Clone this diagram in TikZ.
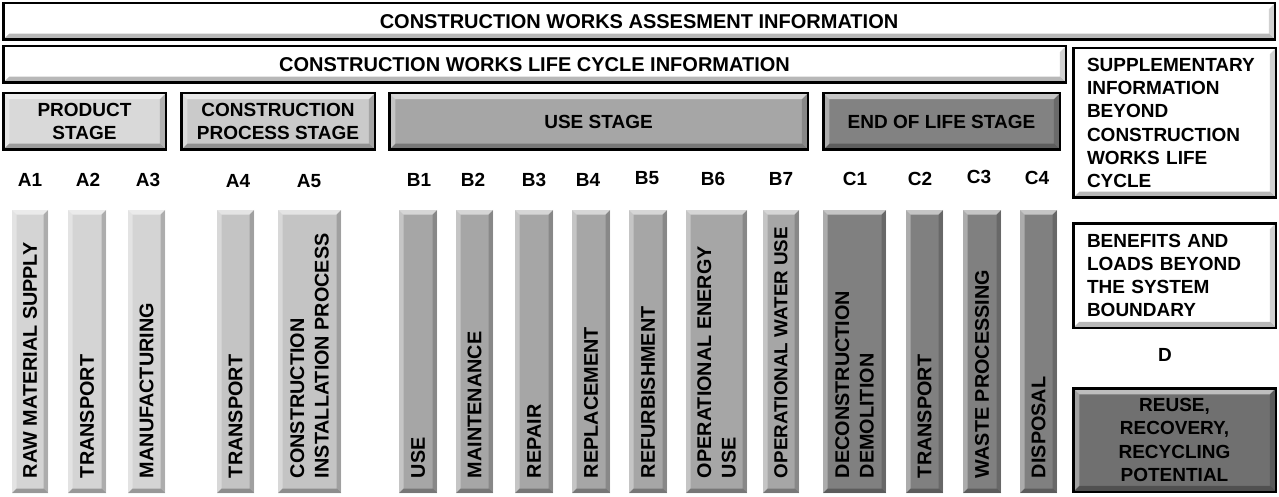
\documentclass[tikz,border=0pt]{standalone}
\usepackage{fontspec}
\setmainfont{Liberation Sans}
\definecolor{prodbox}{HTML}{D9D9D9}
\definecolor{prodcol}{HTML}{D4D4D4}
\definecolor{procbox}{HTML}{CACACA}
\definecolor{proccol}{HTML}{C4C4C4}
\definecolor{usebox}{HTML}{A6A6A6}
\definecolor{usecol}{HTML}{A6A6A6}
\definecolor{eolbox}{HTML}{828282}
\definecolor{eolcol}{HTML}{808080}
\definecolor{reusebox}{HTML}{707070}
\begin{document}
\begin{tikzpicture}[x=1pt,y=1pt,
  txt/.style={font=\fontsize{19}{23.2}\selectfont\bfseries},
  bigtxt/.style={font=\fontsize{20}{24}\selectfont\bfseries},
  coltxtfont/.style={font=\fontsize{19.8}{24.5}\selectfont\bfseries},
  bevel/.style={path picture={
    \coordinate (pnw) at (path picture bounding box.north west);
    \coordinate (pne) at (path picture bounding box.north east);
    \coordinate (psw) at (path picture bounding box.south west);
    \coordinate (pse) at (path picture bounding box.south east);
    \fill[white,opacity=.55] (pnw) -- (pne) -- ([shift={(-#1,-#1)}]pne) -- ([shift={(#1,-#1)}]pnw) -- cycle;
    \fill[white,opacity=.35] (pnw) -- (psw) -- ([shift={(#1,#1)}]psw) -- ([shift={(#1,-#1)}]pnw) -- cycle;
    \fill[black,opacity=.18] (pne) -- (pse) -- ([shift={(-#1,#1)}]pse) -- ([shift={(-#1,-#1)}]pne) -- cycle;
    \fill[black,opacity=.28] (psw) -- (pse) -- ([shift={(-#1,#1)}]pse) -- ([shift={(#1,#1)}]psw) -- cycle;
  }},
  box/.style={draw=black, line width=2.5pt, rectangle, inner sep=0pt, bevel=6pt, txt, align=center},
  colbox/.style={rectangle, inner sep=0pt, bevel=4.5pt, minimum height=283pt},
  coltxt/.style={coltxtfont, rotate=90, anchor=west, inner sep=0pt, align=left},
  code/.style={txt, inner sep=0pt}
]
\useasboundingbox (0,0) rectangle (1279,-497);

% header boxes
\node[box, bigtxt, fill=white, minimum width=1271.5pt, minimum height=36.5pt] (assess) at (639,-21.5) {CONSTRUCTION WORKS ASSESMENT INFORMATION};
\node[box, bigtxt, fill=white, minimum width=1062.5pt, minimum height=36.5pt] (life) at (534.5,-64.5) {CONSTRUCTION WORKS LIFE CYCLE INFORMATION};

% stage boxes
\node[box, fill=prodbox, minimum width=162.5pt, minimum height=56.5pt] (product) at (84.5,-121.5) {PRODUCT\\STAGE};
\node[box, fill=procbox, minimum width=193.5pt, minimum height=56.5pt] (process) at (278,-121.5) {CONSTRUCTION\\PROCESS STAGE};
\node[box, fill=usebox, minimum width=418.5pt, minimum height=56.5pt] (use) at (598.5,-121.5) {USE STAGE};
\node[box, fill=eolbox, minimum width=236.5pt, minimum height=56.5pt] (eol) at (941.5,-121.5) {END OF LIFE STAGE};

% right boxes
\node[box, fill=white, minimum width=202.5pt, minimum height=149.5pt, text width=175pt, align=left] (supp) at (1174.5,-123) {SUPPLEMENTARY\\INFORMATION\\BEYOND\\CONSTRUCTION\\WORKS LIFE\\CYCLE};
\node[box, fill=white, minimum width=202.5pt, minimum height=104.5pt, text width=175pt, align=left] (benef) at (1174.5,-275.5) {BENEFITS AND\\LOADS BEYOND\\THE SYSTEM\\BOUNDARY};
\node[code] (dlab) at (1165,-355) {D};
\node[box, fill=reusebox, minimum width=202.5pt, minimum height=103.5pt] (reuse) at (1174.5,-440) {REUSE,\\RECOVERY,\\RECYCLING\\POTENTIAL};

% module codes
\node[code] (la1) at (30,-180) {A1};
\node[code] (la2) at (88,-180) {A2};
\node[code] (la3) at (148,-180) {A3};
\node[code] (la4) at (238,-181) {A4};
\node[code] (la5) at (309,-181) {A5};
\node[code] (lb1) at (419,-180) {B1};
\node[code] (lb2) at (473,-180) {B2};
\node[code] (lb3) at (534,-180) {B3};
\node[code] (lb4) at (588,-180) {B4};
\node[code] (lb5) at (647,-178) {B5};
\node[code] (lb6) at (713,-179) {B6};
\node[code] (lb7) at (781,-179) {B7};
\node[code] (lc1) at (855,-179) {C1};
\node[code] (lc2) at (920,-179) {C2};
\node[code] (lc3) at (979,-177) {C3};
\node[code] (lc4) at (1037,-178) {C4};

% columns
\node[colbox, fill=prodcol, minimum width=36pt] (a1) at (30,-351.5) {};
\node[colbox, fill=prodcol, minimum width=38pt] (a2) at (87,-351.5) {};
\node[colbox, fill=prodcol, minimum width=37pt] (a3) at (146.5,-351.5) {};
\node[colbox, fill=proccol, minimum width=37pt] (a4) at (235.5,-351.5) {};
\node[colbox, fill=proccol, minimum width=63pt] (a5) at (309.5,-351.5) {};
\node[colbox, fill=usecol, minimum width=38pt] (b1) at (418,-351.5) {};
\node[colbox, fill=usecol, minimum width=37pt] (b2) at (474.5,-351.5) {};
\node[colbox, fill=usecol, minimum width=38pt] (b3) at (534,-351.5) {};
\node[colbox, fill=usecol, minimum width=38pt] (b4) at (591,-351.5) {};
\node[colbox, fill=usecol, minimum width=38pt] (b5) at (648,-351.5) {};
\node[colbox, fill=usecol, minimum width=61pt] (b6) at (716.5,-351.5) {};
\node[colbox, fill=usecol, minimum width=36pt] (b7) at (781,-351.5) {};
\node[colbox, fill=eolcol, minimum width=63pt] (c1) at (854.5,-351.5) {};
\node[colbox, fill=eolcol, minimum width=37pt] (c2) at (924.5,-351.5) {};
\node[colbox, fill=eolcol, minimum width=38pt] (c3) at (982,-351.5) {};
\node[colbox, fill=eolcol, minimum width=37pt] (c4) at (1038.5,-351.5) {};

% column texts
\node[coltxt] (ta1) at ([yshift=15pt]a1.south) {RAW MATERIAL SUPPLY};
\node[coltxt] (ta2) at ([yshift=15pt]a2.south) {TRANSPORT};
\node[coltxt] (ta3) at ([yshift=15pt]a3.south) {MANUFACTURING};
\node[coltxt] (ta4) at ([yshift=15pt]a4.south) {TRANSPORT};
\node[coltxt] (ta5) at ([yshift=15pt]a5.south) {CONSTRUCTION\\INSTALLATION PROCESS};
\node[coltxt] (tb1) at ([yshift=15pt]b1.south) {USE};
\node[coltxt] (tb2) at ([yshift=15pt]b2.south) {MAINTENANCE};
\node[coltxt] (tb3) at ([yshift=15pt]b3.south) {REPAIR};
\node[coltxt] (tb4) at ([yshift=15pt]b4.south) {REPLACEMENT};
\node[coltxt] (tb5) at ([yshift=15pt]b5.south) {REFURBISHMENT};
\node[coltxt] (tb6) at ([yshift=15pt]b6.south) {OPERATIONAL ENERGY\\USE};
\node[coltxt, font=\fontsize{18.8}{23}\selectfont\bfseries] (tb7) at ([yshift=15pt]b7.south) {OPERATIONAL WATER USE};
\node[coltxt] (tc1) at ([yshift=15pt]c1.south) {DECONSTRUCTION\\DEMOLITION};
\node[coltxt] (tc2) at ([yshift=15pt]c2.south) {TRANSPORT};
\node[coltxt] (tc3) at ([yshift=15pt]c3.south) {WASTE PROCESSING};
\node[coltxt] (tc4) at ([yshift=15pt]c4.south) {DISPOSAL};
\end{tikzpicture}
\end{document}
